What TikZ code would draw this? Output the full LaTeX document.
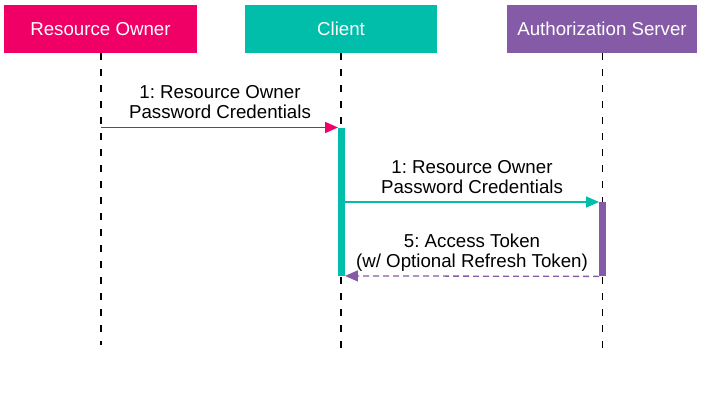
\documentclass[tikz,border=0pt]{standalone}
\usepackage{fontspec}
\setmainfont{Liberation Sans}
\frenchspacing
\usetikzlibrary{arrows.meta}
\definecolor{ropink}{RGB}{240,0,102}
\definecolor{clteal}{RGB}{0,190,170}
\definecolor{aspurple}{RGB}{133,90,166}
\begin{document}
\begin{tikzpicture}[x=1pt,y=-1pt,
  actor/.style={draw=none,fill=#1,text=white,minimum height=48pt,inner sep=0pt,
    font=\fontsize{18.7}{20}\selectfont},
  lifeline/.style={draw=black,line width=1.1pt,dash pattern=on 7pt off 9pt},
  actbar/.style={draw=none,fill=#1,minimum width=6.5pt,inner sep=0pt},
  msg/.style={draw=#1,line width=1.4pt,-{Triangle[length=13pt,width=11pt]}},
  msglabel/.style={align=center,inner sep=0pt,anchor=south,
    font=\fontsize{18.7}{20}\selectfont}]
\useasboundingbox (0,0) rectangle (704,404);
% actors
\node[actor=ropink,minimum width=193pt] (ro) at (100.5,29) {Resource Owner};
\node[actor=clteal,minimum width=192pt] (cl) at (341,29) {Client};
\node[actor=aspurple,minimum width=190pt] (as) at (602,29) {Authorization Server};
% lifeline ends
\coordinate (roend) at (101,345);
\coordinate (clend) at (341,350);
\coordinate (asend) at (602.5,350);
\draw[lifeline] (ro.south -| roend) -- (roend);
\draw[lifeline] (cl.south -| clend) -- (clend);
\draw[lifeline] (as.south -| asend) -- (asend);
% activation bars
\node[actbar=clteal,minimum height=148pt,anchor=north] (clbar) at (341.5,127.5) {};
\node[actbar=aspurple,minimum height=74pt,anchor=north] (asbar) at (602.5,202) {};
% messages
\coordinate (m1s) at (101,127.5);
\draw[msg=ropink] (m1s) -- (clbar.north west);
\node[msglabel] (l1) at (220,125) {1: Resource Owner\\Password Credentials\strut};
\draw[msg=clteal] (clbar.east |- asbar.north west) -- (asbar.north west);
\node[msglabel] (l2) at (472,199.5) {1: Resource Owner\\Password Credentials\strut};
\draw[msg=aspurple,dash pattern=on 6pt off 4pt,line width=1.3pt] (asbar.south west) -- (clbar.south east);
\node[msglabel] (l3) at (472,273.5) {5: Access Token\\(w/ Optional Refresh Token)\strut};
\end{tikzpicture}
\end{document}
